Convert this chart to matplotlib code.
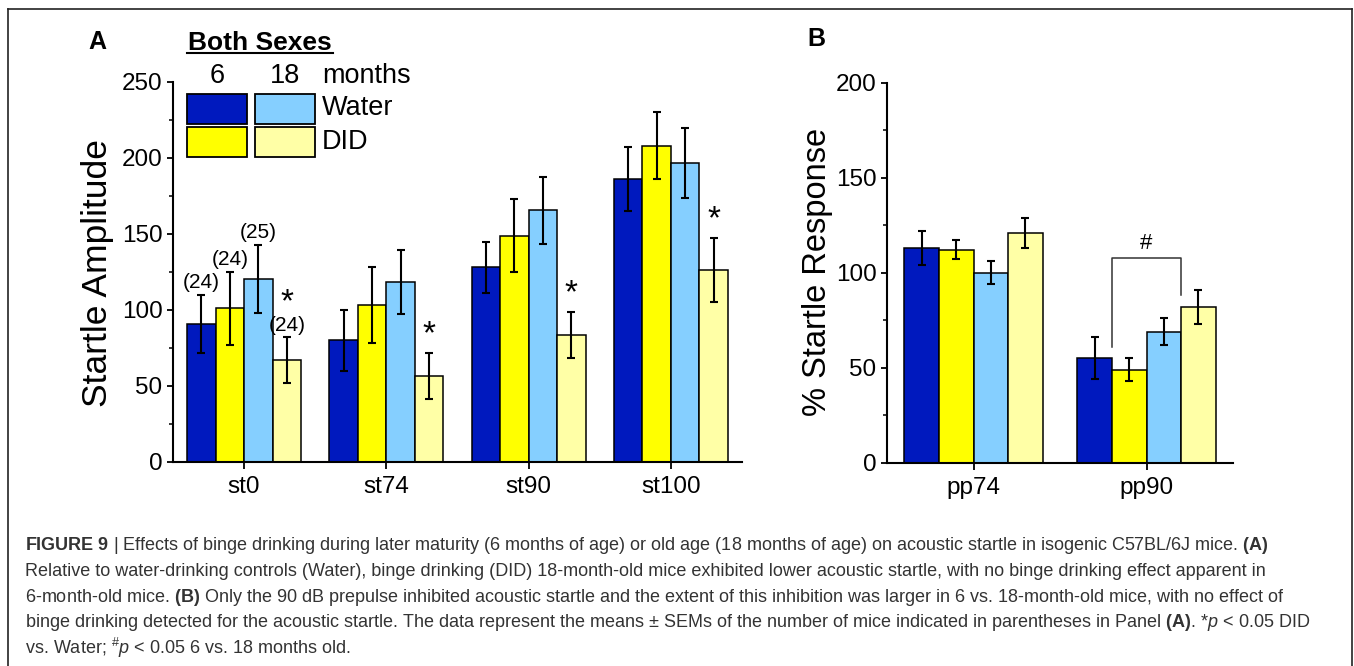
import matplotlib
matplotlib.use("Agg")
import matplotlib.pyplot as plt
from matplotlib.lines import Line2D
from matplotlib.patches import Rectangle
from matplotlib.ticker import MultipleLocator

W, H = 1354, 666

# Panel A: startle amplitude per stimulus
stimuli = ["st0", "st74", "st90", "st100"]
water6 = [91, 80, 128, 186]
water6_sem = [19, 20, 17, 21]
did6 = [101, 103.5, 149, 208]
did6_sem = [24, 25, 24, 22]
water18 = [120.5, 118.5, 165.5, 196.5]
water18_sem = [22.5, 21, 22, 23]
did18 = [67, 56.5, 83.5, 126.5]
did18_sem = [15, 15, 15, 21]
n_mice = ["(24)", "(24)", "(25)", "(24)"]

# Panel B: % startle response per prepulse
prepulses = ["pp74", "pp90"]
water6_pp = [113, 55]
water6_pp_sem = [9, 11]
did6_pp = [112, 49]
did6_pp_sem = [5, 6]
water18_pp = [100, 69]
water18_pp_sem = [6, 7]
did18_pp = [121, 82]
did18_pp_sem = [8, 9]
bracket_top = 107.5
bracket_legs = [61, 88]

group_labels = ["6 months Water", "6 months DID", "18 months Water", "18 months DID"]
colors = ["#0019BE", "#FFFF00", "#85CFFF", "#FFFFA6"]
offsets = [-0.3, -0.1, 0.1, 0.3]
BAR_W = 0.2

plt.rcParams["font.family"] = ["Liberation Sans", "DejaVu Sans"]
plt.rcParams["mathtext.fontset"] = "custom"
plt.rcParams["mathtext.rm"] = "Liberation Sans"
plt.rcParams["mathtext.it"] = "Liberation Sans:italic"
plt.rcParams["mathtext.bf"] = "Liberation Sans:bold"


def fx(x):
    return x / W


def fy(y):
    return 1 - y / H


def style_axes(ax, ymax, labels):
    ax.set_ylim(0, ymax)
    ax.set_xlim(-0.5, len(labels) - 0.5)
    for side in ["top", "right"]:
        ax.spines[side].set_visible(False)
    for side in ["left", "bottom"]:
        ax.spines[side].set_linewidth(1.5)
    ax.yaxis.set_major_locator(MultipleLocator(50))
    ax.yaxis.set_minor_locator(MultipleLocator(25))
    ax.tick_params(axis="y", which="major", length=4.5, width=1.3, labelsize=17.5, pad=3)
    ax.tick_params(axis="y", which="minor", length=3, width=1.1)
    ax.set_xticks(range(len(labels)))
    ax.set_xticklabels(labels)
    ax.tick_params(axis="x", which="major", length=5, width=1.3, labelsize=17.5, pad=5)
    ax.tick_params(axis="x", which="minor", bottom=False)


def draw_bars(ax, series, sems):
    for i, (vals, errs) in enumerate(zip(series, sems)):
        xs = [k + offsets[i] for k in range(len(vals))]
        ax.bar(xs, vals, width=BAR_W, color=colors[i], edgecolor="black",
               linewidth=1.1, label=group_labels[i], zorder=2)
        ax.errorbar(xs, vals, yerr=errs, fmt="none", ecolor="black",
                    elinewidth=1.5, capsize=3, capthick=1.5, zorder=3)


fig = plt.figure(figsize=(W / 100, H / 100), dpi=100)

# ---- panel A ----
ax_a = fig.add_axes([fx(173), fy(462), fx(742) - fx(173), (462 - 82) / H])
draw_bars(ax_a, [water6, did6, water18, did18],
          [water6_sem, did6_sem, water18_sem, did18_sem])
style_axes(ax_a, 250, stimuli)

# group sizes above the st0 bars
for i, series in enumerate([water6, did6, water18, did18]):
    sems = [water6_sem, did6_sem, water18_sem, did18_sem][i]
    ax_a.text(offsets[i], series[0] + sems[0] + 8, n_mice[i],
              ha="center", va="center", fontsize=15)

# DID vs Water at 18 months
for k in range(len(stimuli)):
    lift = 23 if k == 0 else 12
    ax_a.text(k + offsets[3], did18[k] + did18_sem[k] + lift, "*",
              ha="center", va="center", fontsize=24)

fig.text(fx(98), fy(273), "Startle Amplitude", rotation=90,
         ha="center", va="center", fontsize=25.5)
fig.text(fx(97), fy(42), "A", ha="center", va="center",
         fontsize=18, fontweight="bold")

# legend block
fig.text(fx(260), fy(43), "Both Sexes", ha="center", va="center",
         fontsize=19, fontweight="bold")
fig.add_artist(Line2D([fx(187), fx(333)], [fy(53), fy(53)], color="black", lw=1.5))
fig.text(fx(217), fy(76), "6", ha="center", va="center", fontsize=19.5)
fig.text(fx(285), fy(76), "18", ha="center", va="center", fontsize=19.5)
fig.text(fx(322), fy(76), "months", ha="left", va="center", fontsize=19.5)
fig.text(fx(322), fy(108), "Water", ha="left", va="center", fontsize=19.5)
fig.text(fx(322), fy(142), "DID", ha="left", va="center", fontsize=19.5)
boxes = [(187, 94, colors[0]), (255, 94, colors[2]),
         (187, 127, colors[1]), (255, 127, colors[3])]
for x0, y0, c in boxes:
    fig.add_artist(Rectangle((fx(x0), fy(y0 + 30)), 60 / W, 30 / H,
                             transform=fig.transFigure, facecolor=c,
                             edgecolor="black", linewidth=1.3))

# ---- panel B ----
ax_b = fig.add_axes([fx(887), fy(462.7), fx(1233) - fx(887), 380 / H])
draw_bars(ax_b, [water6_pp, did6_pp, water18_pp, did18_pp],
          [water6_pp_sem, did6_pp_sem, water18_pp_sem, did18_pp_sem])
style_axes(ax_b, 200, prepulses)

# 6 vs 18 months bracket on pp90
bx = [1 - 0.2, 1 - 0.2, 1 + 0.2, 1 + 0.2]
by = [bracket_legs[0], bracket_top, bracket_top, bracket_legs[1]]
ax_b.plot(bx, by, color="#333333", lw=1.1, zorder=4)
ax_b.text(1.0, bracket_top + 8, "#", ha="center", va="center", fontsize=16)

fig.text(fx(818), fy(272), "% Startle Response", rotation=90,
         ha="center", va="center", fontsize=23.5)
fig.text(fx(816), fy(39), "B", ha="center", va="center",
         fontsize=18, fontweight="bold")

# ---- caption ----
caption = [
    r"$\mathbf{FIGURE\ 9}$ | Effects of binge drinking during later maturity (6 months of age) "
    r"or old age (18 months of age) on acoustic startle in isogenic C57BL/6J mice. $\mathbf{(A)}$",
    "Relative to water-drinking controls (Water), binge drinking (DID) 18-month-old mice "
    "exhibited lower acoustic startle, with no binge drinking effect apparent in",
    r"6-month-old mice. $\mathbf{(B)}$ Only the 90 dB prepulse inhibited acoustic startle and "
    "the extent of this inhibition was larger in 6 vs. 18-month-old mice, with no effect of",
    "binge drinking detected for the acoustic startle. The data represent the means \u00b1 SEMs "
    r"of the number of mice indicated in parentheses in Panel $\mathbf{(A)}$. *$\mathit{p}$ < 0.05 DID",
    r"vs. Water; $^{\#}\mathit{p}$ < 0.05 6 vs. 18 months old.",
]
for i, line in enumerate(caption):
    fig.text(fx(25), fy(546 + 25.5 * i), line, ha="left", va="center",
             fontsize=13, color="#333333")

# frame around figure and caption
frame = dict(color="#222222", lw=1.2)
fig.add_artist(Line2D([fx(8), fx(1352)], [fy(9), fy(9)], **frame))
fig.add_artist(Line2D([fx(8), fx(8)], [fy(9), 0], **frame))
fig.add_artist(Line2D([fx(1352), fx(1352)], [fy(9), 0], **frame))

fig.savefig("out.png", dpi=100)
